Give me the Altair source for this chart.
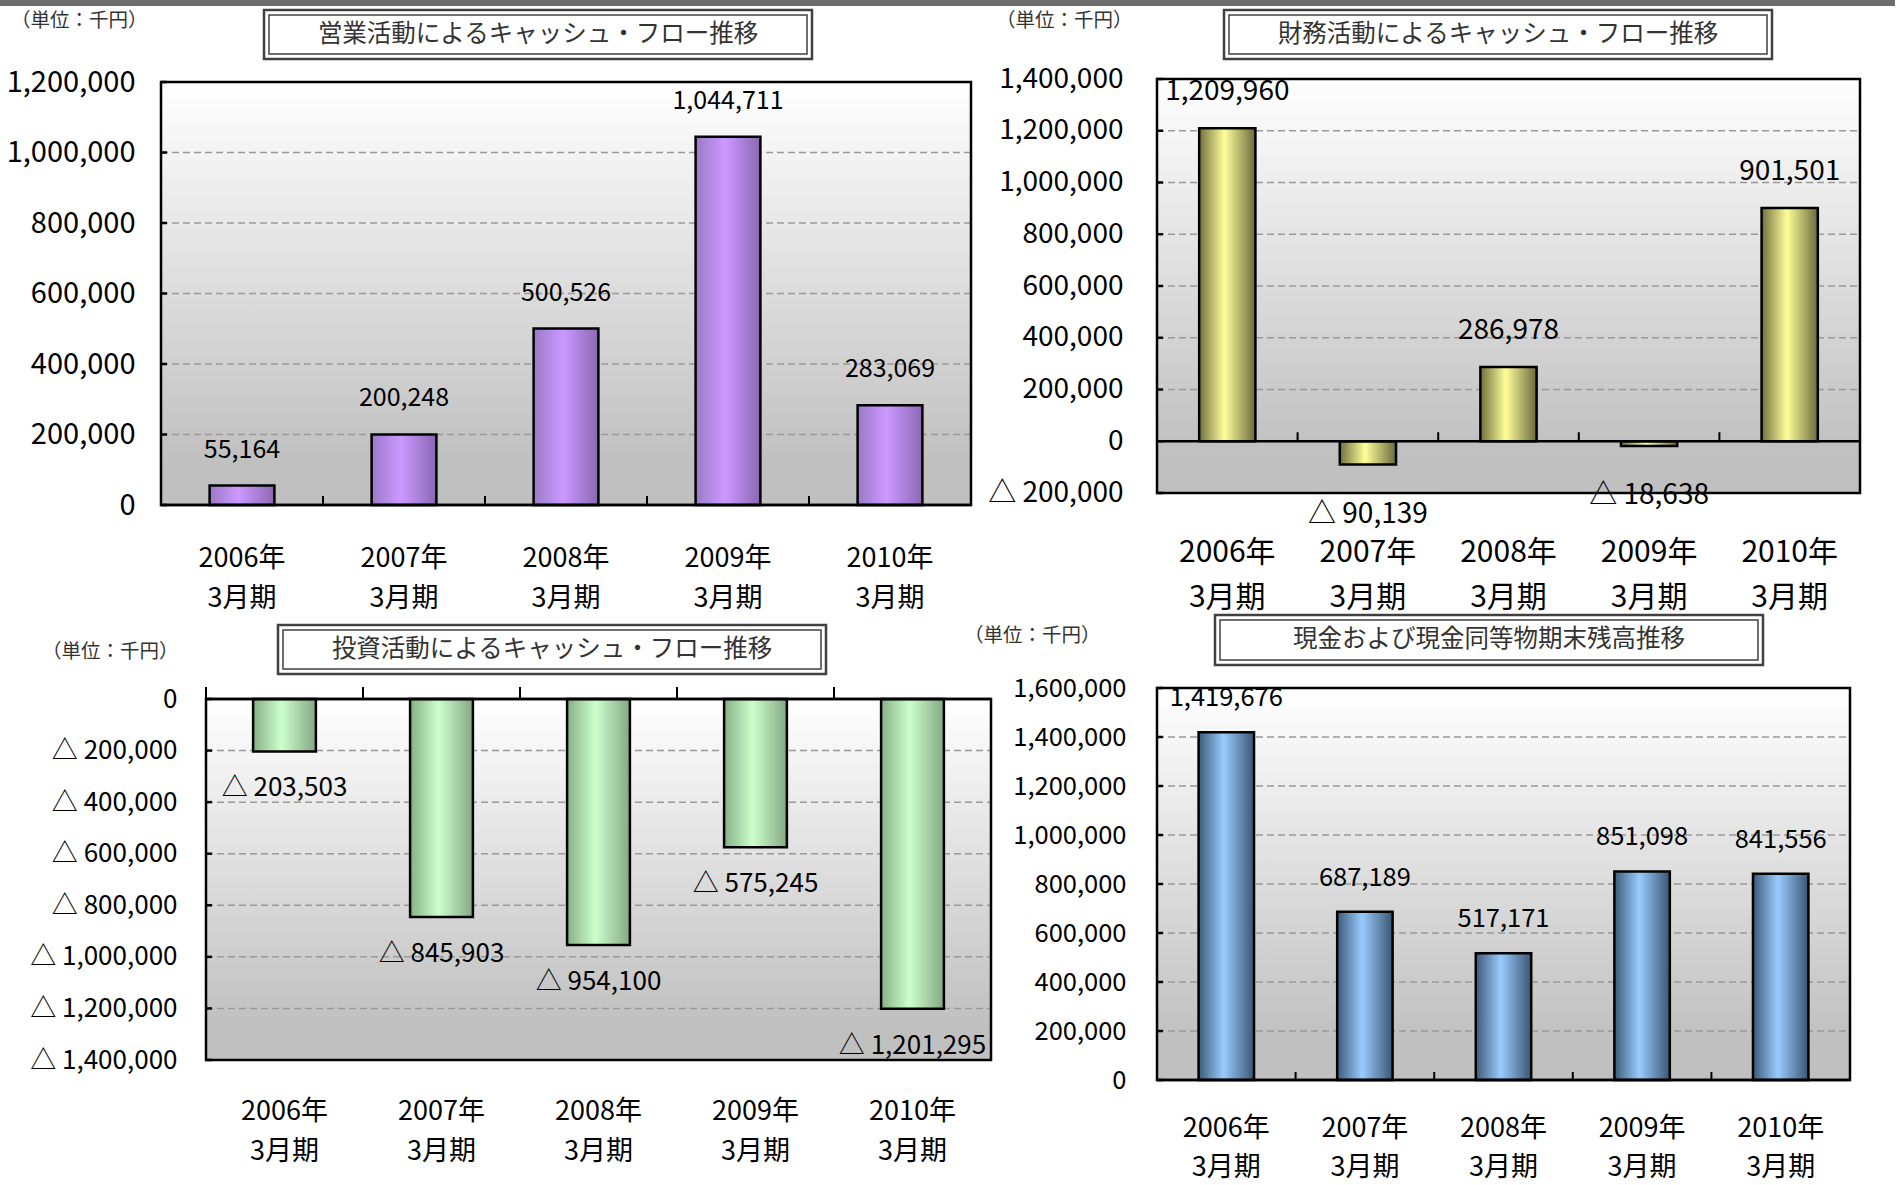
import altair as alt
import pandas as pd

FONT = "Noto Sans CJK JP"

# ---------------- data ----------------
categories = ["2006年 3月期", "2007年 3月期", "2008年 3月期", "2009年 3月期", "2010年 3月期"]

operating_cf = [55164, 200248, 500526, 1044711, 283069]
financing_cf = [1209960, -90139, 286978, -18638, 901501]
investing_cf = [-203503, -845903, -954100, -575245, -1201295]
cash_balance = [1419676, 687189, 517171, 851098, 841556]

operating_ticks = [0, 200000, 400000, 600000, 800000, 1000000, 1200000]
financing_ticks = [-200000, 0, 200000, 400000, 600000, 800000, 1000000, 1200000, 1400000]
investing_ticks = [-1400000, -1200000, -1000000, -800000, -600000, -400000, -200000, 0]
cash_ticks = [0, 200000, 400000, 600000, 800000, 1000000, 1200000, 1400000, 1600000]

titles = [
    "営業活動によるキャッシュ・フロー推移",
    "財務活動によるキャッシュ・フロー推移",
    "投資活動によるキャッシュ・フロー推移",
    "現金および現金同等物期末残高推移",
]
unit_label = "（単位：千円）"

NUM_EXPR = "datum.value < 0 ? '△ ' + format(-datum.value, ',') : format(datum.value, ',')"

BG_GRADIENT = {
    "gradient": "linear", "x1": 0, "x2": 0, "y1": 0, "y2": 1,
    "stops": [
        {"offset": 0, "color": "#ffffff"},
        {"offset": 0.9, "color": "#c0c0c0"},
        {"offset": 1, "color": "#c0c0c0"},
    ],
}


def bar_gradient(left, mid, right):
    return {
        "gradient": "linear", "x1": 0, "x2": 1, "y1": 0, "y2": 0,
        "stops": [
            {"offset": 0, "color": left},
            {"offset": 0.45, "color": mid},
            {"offset": 1, "color": right},
        ],
    }


one_row = pd.DataFrame({"k": [0]})


def panel(values, ticks, title, s, strip=None, extend_bottom=None):
    L, T, R, B = s["plot"]
    W, H = s["view"]
    df = pd.DataFrame({"cat": categories, "value": values, "base": [0] * len(values)})
    grid_df = pd.DataFrame({"value": [t for t in ticks if t not in (0, ticks[0])]})
    tick_df = pd.DataFrame({"value": ticks})
    zero_df = pd.DataFrame({"value": [0]})

    xscale = alt.Scale(domain=categories, range=[L, R], paddingInner=0, paddingOuter=0)
    yscale = alt.Scale(domain=[ticks[0], ticks[-1]], range=[B, T], nice=False, zero=False)

    xaxis = alt.Axis(
        title=None, domain=False, ticks=False, tickSize=0, grid=False, labelAngle=0,
        labelExpr="split(datum.label, ' ')", labelFont=FONT, labelFontSize=s["xfs"],
        labelLineHeight=s["xlh"], labelPadding=s["xpad"], labelBaseline="top",
        labelColor="#000000", labelOverlap=False, labelBound=False,
    )
    yaxis = alt.Axis(
        title=None, domain=False, ticks=False, tickSize=0, grid=False, values=ticks,
        labelExpr=NUM_EXPR, labelFont=FONT, labelFontSize=s["yfs"], labelPadding=s["ypad"],
        labelColor="#000000", labelOverlap=False, labelBound=False, labelFlush=False,
        offset=-L,
    )

    X = lambda **kw: alt.X("cat:N", scale=xscale, axis=xaxis, **kw)
    Y = lambda f="value": alt.Y(f"{f}:Q", scale=yscale, axis=yaxis)

    layers = []
    if extend_bottom is not None:
        # invisible spacer so the page keeps room for the lowest labels
        layers.append(alt.Chart(one_row).mark_rect(fillOpacity=0, strokeWidth=0).encode(
            x=alt.value(L), x2=alt.value(L + 10), y=alt.value(H), y2=alt.value(extend_bottom)))
    layers.append(alt.Chart(one_row).mark_rect(fill=BG_GRADIENT, strokeWidth=0).encode(
        x=alt.value(L), x2=alt.value(R), y=alt.value(T), y2=alt.value(B)))
    layers.append(alt.Chart(grid_df).mark_rule(color="#999999", strokeDash=[7, 4], strokeWidth=1.5).encode(
        x=alt.value(L), x2=alt.value(R), y=Y()))
    layers.append(alt.Chart(df).mark_bar(
        width={"band": 0.4}, fill=bar_gradient(*s["bar"]), stroke="#000000", strokeWidth=2.5).encode(
        x=X(), y=Y(), y2=alt.Y2("base")))
    layers.append(alt.Chart(zero_df).mark_rule(color="#000000", strokeWidth=2.5).encode(
        x=alt.value(L), x2=alt.value(R), y=Y()))
    layers.append(alt.Chart(one_row).mark_rect(
        fillOpacity=0, stroke="#000000", strokeWidth=2.5).encode(
        x=alt.value(L), x2=alt.value(R), y=alt.value(T), y2=alt.value(B)))
    layers.append(alt.Chart(tick_df).mark_rule(color="#000000", strokeWidth=2.5).encode(
        x=alt.value(L), x2=alt.value(L + 6), y=Y()))
    layers.append(alt.Chart(df).mark_rule(color="#000000", strokeWidth=2, y2Offset=-s["xtick"]).encode(
        x=X(bandPosition=0), y=Y("base"), y2=alt.Y2("base")))

    pos = df[df["value"] >= 0]
    neg = df[df["value"] < 0]
    if len(pos):
        layers.append(alt.Chart(pos).transform_calculate(lbl=NUM_EXPR).mark_text(
            dy=s["dy_pos"], font=FONT, fontSize=s["lfs"], color="#000000", baseline="middle").encode(
            x=X(), y=Y(), text="lbl:N"))
    if len(neg):
        layers.append(alt.Chart(neg).transform_calculate(lbl=NUM_EXPR).mark_text(
            dy=s["dy_neg"], font=FONT, fontSize=s["lfs"], color="#000000", baseline="middle").encode(
            x=X(), y=Y(), text="lbl:N"))

    bx1, by1, bx2, by2 = s["box"]
    layers.append(alt.Chart(one_row).mark_rect(fill="#ffffff", stroke="#404040", strokeWidth=2.5).encode(
        x=alt.value(bx1), x2=alt.value(bx2), y=alt.value(by1), y2=alt.value(by2)))
    layers.append(alt.Chart(one_row).mark_rect(fillOpacity=0, stroke="#404040", strokeWidth=1.5).encode(
        x=alt.value(bx1 + 5), x2=alt.value(bx2 - 5), y=alt.value(by1 + 5), y2=alt.value(by2 - 5)))
    layers.append(alt.Chart(one_row).mark_text(
        text=title, font=FONT, fontSize=24.5, color="#333333", align="center", baseline="middle").encode(
        x=alt.value((bx1 + bx2) / 2), y=alt.value((by1 + by2) / 2)))
    ux, uy = s["unit"]
    layers.append(alt.Chart(one_row).mark_text(
        text=unit_label, font=FONT, fontSize=19.5, color="#333333", align="left", baseline="middle").encode(
        x=alt.value(ux), y=alt.value(uy)))
    if strip is not None:
        sx1, sx2, sy1, sy2 = strip
        layers.append(alt.Chart(one_row).mark_rect(fill="#6e6e6e", strokeWidth=0).encode(
            x=alt.value(sx1), x2=alt.value(sx2), y=alt.value(sy1), y2=alt.value(sy2)))

    return alt.layer(*layers).properties(width=W, height=H)


# cells: col0 x=161, col1 x=1157 ; row0 y=79, row1 y=688
spec_a = dict(plot=(0, 3, 810, 426), view=(830, 426), xfs=27, xlh=40, xpad=40, yfs=29, ypad=26,
              lfs=25, dy_pos=-36, dy_neg=36, xtick=9,
              bar=("#9a7ac8", "#cc99ff", "#8a68b4"), box=(103, -69, 651, -20), unit=(-150, -58))
spec_b = dict(plot=(0, 0, 703, 414), view=(703, 426), xfs=30, xlh=45, xpad=32, yfs=28, ypad=34,
              lfs=28, dy_pos=-36, dy_neg=50, xtick=9,
              bar=("#707040", "#ffff99", "#6a6a3c"), box=(67, -69, 615, -20), unit=(-161, -58))
spec_c = dict(plot=(45, 11, 830, 372), view=(830, 392), xfs=27, xlh=40, xpad=18, yfs=26, ypad=29,
              lfs=26, dy_pos=-36, dy_neg=37, xtick=12,
              bar=("#86b086", "#ccffcc", "#85a885"), box=(117, -63, 665, -14), unit=(-119, -36))
spec_d = dict(plot=(0, 0, 693, 392), view=(703, 392), xfs=27, xlh=39, xpad=35, yfs=25.5, ypad=31,
              lfs=25.5, dy_pos=-34, dy_neg=34, xtick=8,
              bar=("#3d5a78", "#99ccff", "#3a5673"), box=(58, -73, 606, -23), unit=(-193, -52))

chart_a = panel(operating_cf, operating_ticks, titles[0], spec_a, strip=(-161, 1734, -79, -73))
chart_b = panel(financing_cf, financing_ticks, titles[1], spec_b)
chart_c = panel(investing_cf, investing_ticks, titles[2], spec_c)
chart_d = panel(cash_balance, cash_ticks, titles[3], spec_d, extend_bottom=497)

chart = alt.concat(
    chart_a, chart_b, chart_c, chart_d,
    columns=2, spacing={"row": 183, "column": 166}, bounds="flush", align="each",
).configure_view(stroke=None).properties(padding=0)

chart.save("out.html", embed_options={"renderer": "svg", "actions": False})
